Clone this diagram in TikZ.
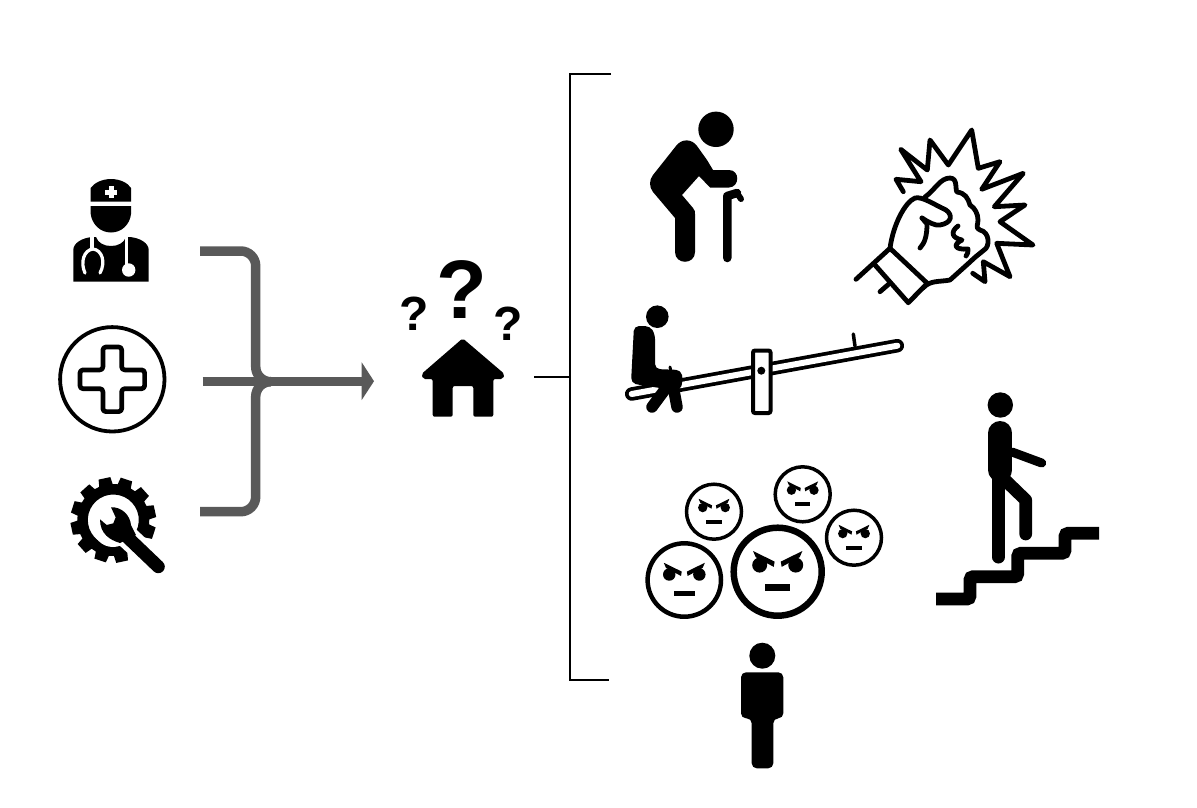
\documentclass[tikz,border=0pt]{standalone}
\usepackage{fontspec}
\setmainfont{Liberation Sans}
\usetikzlibrary{calc}
\definecolor{conn}{HTML}{595959}
\tikzset{
  conline/.style={draw=conn,line width=9.5pt},
  brk/.style={draw=black,line width=1.3pt},
  fistline/.style={draw=black,line width=4.8pt,line cap=round,line join=round,fill=none},
  qmark/.style={inner sep=0pt},
  limb/.style={draw=black,line cap=round,line join=round},
}
\newcommand{\angryface}[4]{%
  \begin{scope}[shift={(#1,#2)},scale=#3]
    \draw[black,line width=#4pt,fill=white] (0,0) circle (1);
    \fill (-.41,-.15) circle (.17);
    \fill (.41,-.15) circle (.17);
    \fill (-.56,-.47)--(-.07,-.23)--(-.09,-.11)--(-.50,-.33)--cycle;
    \fill (.56,-.47)--(.07,-.23)--(.09,-.11)--(.50,-.33)--cycle;
    \fill (-.28,.29) rectangle (.28,.44);
  \end{scope}}
\begin{document}
\begin{tikzpicture}[x=1pt,y=-1pt]
\useasboundingbox (0,0) rectangle (1197,807);
% Doctor
\fill (90.7,201.7)--(90.7,188) .. controls (94,183) and (102,179) .. (111,179) .. controls (120,179) and (128,183) .. (131,188)--(131,201.7)--cycle;
\fill[white] (108.5,186) rectangle (113.5,198);
\fill[white] (105,189.5) rectangle (117,194.5);
\fill (90.7,206)--(131,206)--(131,214) .. controls (130,224) and (122,232.5) .. (111,232.5) .. controls (100,232.5) and (92,224) .. (90.7,214)--cycle;
\fill (73.3,281.7)--(73.3,250) .. controls (73.3,243) and (82,238) .. (92,237)--(96,237) .. controls (98,243) and (104,246) .. (111,246) .. controls (118,246) and (124,243) .. (126,237)--(130,237) .. controls (140,238) and (148.7,243) .. (148.7,250)--(148.7,281.7)--cycle;
\draw[white,line width=3.2pt,line cap=round] (92,237)--(92,249);
\draw[white,line width=3.2pt,line cap=round] (85,273) .. controls (80,262) and (84,250) .. (93,249) .. controls (102,250) and (106,262) .. (100,273);
\draw[white,line width=3.2pt] (126.7,237)--(126.7,268);
\fill[white] (128.7,270) circle (6.7);
% Plus in circle
\draw[black,line width=3.8pt] (112.3,379.3) circle (52.2);
\draw[black,line width=4.7pt,line join=round,rounded corners=3pt] (102.9,347)--(121.7,347)--(121.7,369.9)--(144.6,369.9)--(144.6,388.7)--(121.7,388.7)--(121.7,411.6)--(102.9,411.6)--(102.9,388.7)--(80,388.7)--(80,369.9)--(102.9,369.9)--cycle;
% Gear and wrench
\begin{scope}[shift={(113.3,520)},rotate=-3]
  \fill[even odd rule] (0,0) circle (25.5)
    (7:36) \foreach \a in {0,30,...,330}{ -- ({\a+4}:36) -- ({\a+7}:43) -- ({\a+23}:43) -- ({\a+26}:36) arc[start angle=\a+26,end angle=\a+34,radius=36] } -- cycle;
\end{scope}
\draw[white,line width=23pt] (122,532)--(165,572);
\fill[white] (113,527) circle (20);
\draw[black,line width=13pt,line cap=round] (122,532)--(158.3,566.7);
\fill (100,519.3)--(106.7,525)--(113.3,523.3)--(115.7,517.3)--(111,507.3) .. controls (121.7,506.7) and (130,515) .. (131,525) -- (136,535) -- (120,543) .. controls (110,540) and (100,534) .. (100,519.3) -- cycle;
% Connector
\draw[conline,rounded corners=15pt] (200,251)--(255.7,251)--(255.7,381.7)--(270,381.7);
\draw[conline,rounded corners=15pt] (200,511.7)--(255.7,511.7)--(255.7,381.7)--(270,381.7);
\draw[conline] (202.7,381.7)--(298,381.7);
\draw[draw=conn,line width=8.5pt] (298,381.7)--(364,381.7);
\fill[conn] (361.7,362.3)--(374,381.2)--(361.7,400)--cycle;
% House and question marks
\node[qmark,font=\fontsize{83}{83}\selectfont\bfseries] (q1) at (462.3,289.7) {?};
\node[qmark,font=\fontsize{48}{48}\selectfont\bfseries] (q2) at (414,314) {?};
\node[qmark,font=\fontsize{48}{48}\selectfont\bfseries] (q3) at (507.7,323.5) {?};
\fill[rounded corners=2pt] (462.7,338.3)--(421.5,374)--(423,379)--(432.7,379)--(432.7,416.7)--(452.7,416.7)--(452.7,386)--(473.3,386)--(473.3,416.7)--(493.3,416.7)--(493.3,379)--(503,379)--(504.5,374)--cycle;
% Bracket
\coordinate (bt) at (611,74);
\coordinate (bb) at (609,680);
\coordinate (bs) at (534,377);
\draw[brk] (bt)--(570,74)--(570,680)--(bb);
\draw[brk] (bs)--(570,377);
% Elderly person
\fill (716,129.3) circle (17.7);
\fill (676,146) .. controls (682,138) and (692,139) .. (697,146) -- (707,160) -- (713,170) -- (729,170) .. controls (740,170) and (740,187) .. (729,187.5) -- (710,187.5) -- (699,176) -- (682,195) -- (693,208) .. controls (695,210) and (695,212) .. (695,214) -- (695,252) .. controls (695,265) and (675,265) .. (675,252) -- (675,218) -- (653,192) .. controls (649,187) and (649,180) .. (653,175) -- cycle;
\draw[limb,line width=8.5pt] (727.3,258)--(727.3,196) -- (737,193);
\draw[limb,line width=6pt] (737,193) -- (741,199);
% Fist
\draw[fistline] (903.3,191.7)--(896,179.3)--(921,181.7)--(900.7,149.3)--(927.3,170)--(930,140)--(948.3,165)--(971.7,130)--(978.3,168.3)--(1000,161.7)--(981.7,189.3)--(1023.3,173.3)--(994.3,206.7)--(1025,205)--(1000,221.7)--(1033,245)--(996.7,243.3)--(1010,276.7)--(983.3,261.7)--(985,281.7)--(972.7,273.3);
\draw[fistline] (856,279.3)--(890,248.3);
\draw[fistline] (875,265)--(908.3,302.7)--(927.3,283.3)--(890,248.3);
\draw[fistline] (880,291.7)--(890,283);
\draw[fistline] (890,248.3) .. controls (893,225) and (905,202) .. (915,198) .. controls (922,196) and (935,205) .. (946,210) .. controls (953,215) and (952,223) .. (940,225) .. controls (935,226) and (928,222) .. (922,218);
\draw[fistline] (922,218)--(927,224) .. controls (927,235) and (925,243) .. (920,248);
\draw[fistline] (925,197) .. controls (935,190) and (940,178) .. (950,178) .. controls (958,178) and (955,190) .. (957,192) .. controls (965,193) and (968,198) .. (970,205) .. controls (975,208) and (978,214) .. (978,220) .. controls (978,225) and (975,228) .. (980,230) .. controls (990,232) and (990,247) .. (984,250) .. controls (978,255) and (975,257) .. (970,262) -- (950,280) .. controls (940,282) and (930,280) .. (923,288);
\draw[fistline] (958,226) .. controls (950,232) and (952,238) .. (962,240) .. controls (952,245) and (955,250) .. (968,249) .. controls (968,252) and (968,254) .. (966,256);
% Seesaw
\draw[line width=13.5pt,black,line cap=round] (631.7,394)--(897.3,345.7);
\draw[line width=6pt,white,line cap=round] (631.7,394)--(897.3,345.7);
\draw[black,line width=3.5pt,line cap=round] (853.3,334)--(855,346);
\draw[black,line width=4pt,fill=white,rounded corners=2pt] (753,413)--(753,350.5)--(770.5,350.5)--(770.5,413)--cycle;
\fill (761.3,370.7) circle (4);
\fill (657.3,316.7) circle (11.3);
\fill[rounded corners=5pt] (634,326)--(650,326)--(655,334)--(655,369)--(681,370)--(683,380)--(680,391)--(640,385)--(631,383)--cycle;
\draw[limb,line width=11.5pt] (672,380)--(652,407);
\draw[limb,line width=11.5pt] (672,380)--(677,407);
\draw[black,line width=3pt,line cap=round] (670,367)--(671,372);
% Angry faces
\angryface{714}{511.7}{27.5}{3.5}
\angryface{802.7}{494.3}{27.5}{3.5}
\angryface{854}{537.7}{27.5}{3.5}
\angryface{684.3}{580}{36.7}{4.5}
\angryface{777.7}{571.7}{44}{6.5}
% Stairs person
\fill (1000.3,405) circle (12.7);
\draw[limb,line width=24pt] (1000.3,433)--(1000.3,470);
\draw[limb,line width=9pt] (1012,452)--(1041.7,463);
\draw[limb,line width=13pt] (998.3,478)--(998.3,557);
\draw[limb,line width=12.7pt,line cap=round] (1005,480)--(1025.7,500)--(1025.7,534);
\draw[black,line width=12.7pt,rounded corners=3pt] (936,599)--(970,599)--(970,576.7)--(1017.7,576.7)--(1017.7,553.3)--(1065,553.3)--(1065,533.3)--(1099,533.3);
% Standing person
\fill (762.3,655.7) circle (13);
\fill[rounded corners=5pt] (741,672.3)--(783.3,672.3)--(783.3,718.3)--(773.3,718.3)--(773.3,768.3)--(751.7,768.3)--(751.7,718.3)--(741,718.3)--cycle;
\end{tikzpicture}
\end{document}
